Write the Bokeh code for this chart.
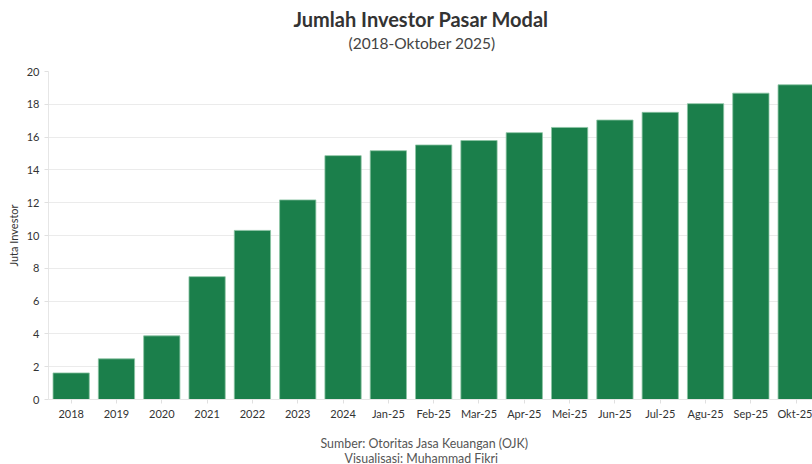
from bokeh.plotting import figure
from bokeh.models import Range1d, FixedTicker, Title, ColumnDataSource
from bokeh.embed import file_html
from bokeh.resources import INLINE

# ---- data ----
categories = ["2018", "2019", "2020", "2021", "2022", "2023", "2024",
              "Jan-25", "Feb-25", "Mar-25", "Apr-25", "Mei-25", "Jun-25",
              "Jul-25", "Agu-25", "Sep-25", "Okt-25"]
investors = [1.62, 2.48, 3.88, 7.49, 10.31, 12.17, 14.87,
             15.17, 15.52, 15.79, 16.27, 16.59, 17.04,
             17.51, 18.04, 18.68, 19.19]
y_ticks = [0, 2, 4, 6, 8, 10, 12, 14, 16, 18, 20]

title_text = "Jumlah Investor Pasar Modal"
subtitle_text = "(2018-Oktober 2025)"
source_text = "Sumber: Otoritas Jasa Keuangan (OJK)"
credit_text = "Visualisasi: Muhammad Fikri"
y_label = "Juta Investor"

FONT = "Lato"
BAR = "#1b7f4b"
GRID = "#ebebeb"

idx = list(range(len(categories)))
src = ColumnDataSource(dict(x=idx, top=investors, cat=categories))

p = figure(width=812, height=464, output_backend="svg", toolbar_location=None,
           x_range=Range1d(-0.5, 16.36), y_range=Range1d(0, 20),
           min_border_left=48, min_border_right=0,
           min_border_top=71, min_border_bottom=65)
p.outline_line_color = None
p.background_fill_color = "white"
p.border_fill_color = "white"

p.vbar(x="x", top="top", width=0.8, bottom=0, source=src,
       fill_color=BAR, line_color="#8cc4a3", line_width=0.8)

# axes
p.xaxis.ticker = FixedTicker(ticks=idx)
p.xaxis.major_label_overrides = {i: c for i, c in enumerate(categories)}
p.yaxis.ticker = FixedTicker(ticks=y_ticks)
for ax in (p.xaxis, p.yaxis):
    ax.axis_line_color = "#e6e6e6"
    ax.major_tick_line_color = "#e0e0e0"
    ax.major_tick_out = 4
    ax.major_tick_in = 0
    ax.minor_tick_line_color = None
    ax.major_label_text_font = FONT
    ax.major_label_text_font_size = "11px"
    ax.major_label_text_color = "#333333"
p.xaxis.major_label_standoff = 3
p.yaxis.major_label_standoff = 5
p.yaxis.axis_label = y_label
p.yaxis.axis_label_text_font = FONT
p.yaxis.axis_label_text_font_size = "11px"
p.yaxis.axis_label_text_font_style = "normal"
p.yaxis.axis_label_text_color = "#333333"
p.yaxis.axis_label_standoff = 4

p.xgrid.grid_line_color = None
p.ygrid.grid_line_color = GRID
p.ygrid.grid_line_width = 1

# titles (first added is closest to the frame); left-aligned with offsets
p.add_layout(Title(text=subtitle_text, align="left", offset=300, standoff=40,
                   text_font=FONT, text_font_size="15.5px", text_font_style="normal",
                   text_color="#444444"), "above")
p.add_layout(Title(text=title_text, align="left", offset=245, standoff=-39,
                   text_font=FONT, text_font_size="20px", text_font_style="bold",
                   text_color="#333333"), "above")
# footer
p.add_layout(Title(text=source_text, align="left", offset=272, standoff=22,
                   text_font=FONT, text_font_size="12.4px", text_font_style="normal",
                   text_color="#555555"), "below")
p.add_layout(Title(text=credit_text, align="left", offset=296, standoff=-22,
                   vertical_align="top",
                   text_font=FONT, text_font_size="12.4px", text_font_style="normal",
                   text_color="#555555"), "below")

open("out.html", "w").write(file_html(p, INLINE))
